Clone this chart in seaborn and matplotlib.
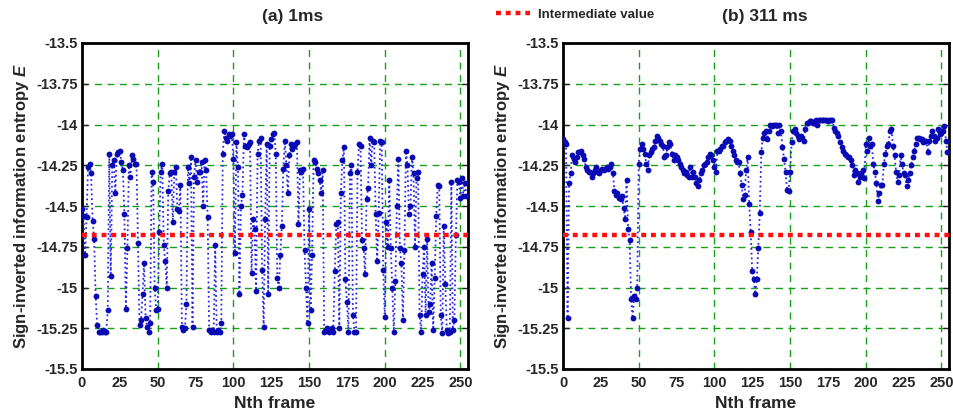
import numpy as np
import pandas as pd
import matplotlib
matplotlib.use("Agg")
import matplotlib.pyplot as plt
from matplotlib.ticker import MultipleLocator, FixedLocator, FixedFormatter, NullFormatter
import seaborn as sns

sns.set_style("white")
plt.rcParams['font.family'] = ['Liberation Sans', 'DejaVu Sans']
plt.rcParams['font.weight'] = 'bold'
plt.rcParams['mathtext.fontset'] = 'custom'
plt.rcParams['mathtext.it'] = 'Liberation Sans:bold:italic'
plt.rcParams['mathtext.rm'] = 'Liberation Sans:bold'

# ---------------- data ----------------
entropy_1ms_a = [
    -14.52, -14.56, -14.80, -14.57, -14.26, -14.24, -14.30, -14.59, -14.70, -15.05,
    -15.23, -15.27, -15.27, -15.27, -15.26, -15.27, -15.27, -15.14, -14.18, -14.93,
    -14.25, -14.22, -14.42, -14.18, -14.17, -14.16, -14.23, -14.28, -14.55, -15.13,
    -14.76, -14.25, -14.32, -14.19, -14.21, -14.24, -14.24, -14.73, -15.23, -15.20,
    -15.04, -14.85, -15.19, -15.24, -15.27, -15.22, -14.29, -14.35, -15.00, -15.14,
    -15.13, -14.66, -14.29, -14.24, -14.74, -14.84, -15.00, -14.41, -14.30, -14.29,
    -14.60, -14.29, -14.26, -14.52, -14.53, -14.37, -15.24, -15.26, -15.25, -15.10,
    -14.26, -14.36, -14.20, -15.24, -14.32, -14.22, -14.35, -14.29, -14.29, -14.23,
    -14.50, -14.22, -14.28, -14.57, -15.26,
]
entropy_1ms_b = [
    -15.27, -15.26, -15.27, -14.74, -15.27, -15.26, -15.27, -15.22, -14.18, -14.04,
    -14.08, -14.10, -14.06, -14.07, -14.06, -14.21, -14.79, -14.11, -14.26, -15.04,
    -14.50, -14.43, -14.06, -14.13, -14.14, -14.12, -14.11, -14.91, -14.58, -14.64,
    -15.02, -14.18, -14.10, -14.08, -14.89, -15.24, -14.58, -14.12, -15.04, -14.13,
    -14.09, -14.06, -14.05, -14.18, -14.94, -15.00, -14.80, -14.62, -14.27, -14.10,
    -14.25, -14.42, -14.19, -14.12, -14.15, -14.13, -14.12, -14.11, -14.61, -14.28,
    -14.29, -14.27, -14.77, -15.00, -15.22, -14.52, -15.14, -14.80, -14.22, -14.23,
    -14.27, -14.30, -14.34, -14.42, -14.28, -15.27, -15.26, -15.25, -15.27, -15.26,
    -15.25, -15.27, -14.90, -14.61,
]
entropy_1ms_c = [
    -14.60, -15.25, -14.42, -14.22, -14.14, -14.95, -15.09, -15.27, -14.30, -14.25,
    -15.17, -15.27, -15.27, -14.29, -14.12, -14.13, -14.71, -14.76, -14.92, -14.46,
    -14.39, -14.08, -14.25, -14.10, -14.11, -14.55, -14.84, -14.54, -14.10, -14.11,
    -14.89, -15.18, -14.60, -14.75, -14.34, -14.76, -15.00, -15.27, -14.96, -14.50,
    -14.21, -14.76, -14.85, -15.20, -14.77, -14.16, -14.25, -14.55, -14.50, -14.20,
    -14.30, -14.75, -14.33, -14.29, -15.17, -15.27, -14.92, -14.75, -15.17, -14.70,
    -15.15, -15.10, -14.85, -15.26, -14.94, -14.56, -14.37, -14.38, -15.17, -15.28,
    -14.62, -14.98, -15.26, -15.28, -15.27, -14.35, -15.26, -15.20, -14.68, -14.34,
    -14.35, -14.45, -14.33, -14.44, -14.36, -14.44,
]
entropy_1ms = entropy_1ms_a + entropy_1ms_b + entropy_1ms_c

entropy_311ms = [
    -14.09, -14.11, -14.12, -15.19, -14.36, -14.30, -14.19, -14.21, -14.23, -14.20,
    -14.17, -14.17, -14.16, -14.19, -14.21, -14.26, -14.28, -14.29, -14.29, -14.32,
    -14.30, -14.28, -14.26, -14.29, -14.30, -14.28, -14.27, -14.28, -14.27, -14.26,
    -14.27, -14.26, -14.24, -14.30, -14.41, -14.43, -14.42, -14.45, -14.46, -14.44,
    -14.51, -14.58, -14.34, -14.64, -14.71, -15.07, -15.19, -15.05, -15.07, -15.00,
    -14.24, -14.15, -14.12, -14.15, -14.18, -14.24, -14.28, -14.19, -14.17, -14.15,
    -14.14, -14.10, -14.07, -14.08, -14.10, -14.12, -14.13, -14.20, -14.19, -14.14,
    -14.11, -14.12, -14.18, -14.22, -14.19, -14.20, -14.22, -14.24, -14.26, -14.28,
    -14.30, -14.29, -14.31, -14.32, -14.26, -14.32, -14.29, -14.32, -14.36, -14.38,
    -14.34, -14.30, -14.28, -14.25, -14.24, -14.23, -14.20, -14.18, -14.19, -14.22,
    -14.26, -14.29, -14.16, -14.16, -14.15, -14.13, -14.13, -14.11, -14.10, -14.09,
    -14.10, -14.13, -14.16, -14.19, -14.22, -14.23, -14.23, -14.30, -14.37, -14.46,
    -14.43, -14.28, -14.20, -14.49, -14.66, -14.90, -14.95, -15.04, -14.95, -14.76,
    -14.54, -14.17, -14.08, -14.05, -14.04, -14.09, -14.04, -14.00, -14.01, -14.00,
    -14.00, -14.00, -14.05, -14.00, -14.04, -14.14, -14.21, -14.29, -14.40, -14.41,
    -14.29, -14.11, -14.04, -14.03, -14.05, -14.07, -14.09, -14.07, -14.08, -14.10,
    -14.03, -13.99, -13.99, -13.98, -13.98, -13.99, -13.99, -13.97, -14.00, -13.97,
    -13.97, -13.97, -13.97, -13.97, -13.97, -13.98, -13.97, -13.97, -13.97, -14.02,
    -14.04, -14.05, -14.07, -14.11, -14.14, -14.16, -14.18, -14.19, -14.20, -14.20,
    -14.22, -14.25, -14.31, -14.28, -14.30, -14.35, -14.32, -14.30, -14.28, -14.33,
    -14.12, -14.16, -14.08, -14.13, -14.12, -14.24, -14.29, -14.36, -14.47, -14.42,
    -14.37, -14.37, -14.24, -14.18, -14.13, -14.12, -14.04, -14.03, -14.13, -14.19,
    -14.29, -14.35, -14.31, -14.19, -14.24, -14.30, -14.31, -14.38, -14.34, -14.30,
    -14.25, -14.20, -14.16, -14.12, -14.08, -14.08, -14.09, -14.09, -14.11, -14.10,
    -14.10, -14.17, -14.10, -14.07, -14.04, -14.07, -14.10, -14.08, -14.03, -14.06,
    -14.05, -14.04, -14.01, -14.10, -14.17,
]

intermediate_value = -14.675
panel_titles = ["(a) 1ms", "(b) 311 ms"]
x_grid_ticks = [0, 50, 100, 150, 200, 250]
x_half_ticks = [25, 75, 125, 175, 225]
y_ticks = [-13.5, -13.75, -14, -14.25, -14.5, -14.75, -15, -15.25, -15.5]
y_tick_labels = ["-13.5", "-13.75", "-14", "-14.25", "-14.5", "-14.75", "-15", "-15.25", "-15.5"]
legend_label = "Intermediate value"

# ---------------- figure ----------------
W, H = 954, 413
fig = plt.figure(figsize=(W / 100, H / 100), dpi=100)

def px_axes(x0, y0, x1, y1):
    return fig.add_axes([x0 / W, 1 - y1 / H, (x1 - x0) / W, (y1 - y0) / H])

ax_left = px_axes(82, 43, 468, 369)
ax_right = px_axes(563, 43, 949, 369)

marker_col = "#0a0ab4"
line_col = "#2a2ae6"
grid_col = "#1aa01a"

series = [entropy_1ms, entropy_311ms]
hline = None
for ax, vals, title in zip([ax_left, ax_right], series, panel_titles):
    df = pd.DataFrame({"frame": np.arange(len(vals)), "E": vals})
    sns.lineplot(data=df, x="frame", y="E", ax=ax, color=line_col, linestyle=":",
                 linewidth=1.3, marker="o", markersize=4.2, markerfacecolor=marker_col,
                 markeredgecolor=marker_col, markeredgewidth=0, zorder=3)
    hline = ax.axhline(intermediate_value, color="#ff1010", linestyle=(0, (1.1, 1.1)),
                       linewidth=3.2, zorder=4, label=legend_label)
    ax.set_xlim(0, 255)
    ax.set_ylim(-15.5, -13.5)
    ax.xaxis.set_major_locator(FixedLocator(x_grid_ticks))
    ax.xaxis.set_minor_locator(FixedLocator(x_half_ticks))
    ax.xaxis.set_minor_formatter(FixedFormatter([str(v) for v in x_half_ticks]))
    ax.yaxis.set_major_locator(FixedLocator(y_ticks))
    ax.yaxis.set_major_formatter(FixedFormatter(y_tick_labels))
    ax.grid(False)
    ax.xaxis.grid(True, which="major", color=grid_col, linestyle=(0, (5, 4)), linewidth=1.0)
    ax.yaxis.grid(True, which="major", color=grid_col, linestyle=(0, (5, 4)), linewidth=1.0)
    ax.set_axisbelow(True)
    ax.tick_params(axis="both", which="both", direction="in", length=4, width=1,
                   labelsize=10.5, pad=3, right=True, left=True, bottom=False, top=False)
    ax.tick_params(axis="x", which="both", length=0, pad=5)
    for lab in (ax.get_xticklabels() + ax.get_yticklabels()
                + ax.get_xticklabels(minor=True)):
        lab.set_fontweight("bold")
    for sp in ax.spines.values():
        sp.set_visible(True)
        sp.set_color("black")
        sp.set_linewidth(2.0)
    ax.set_xlabel("Nth frame", fontsize=12.5, fontweight="bold", labelpad=4)
    ax.set_ylabel(r"Sign-inverted information entropy $E$", fontsize=12, fontweight="bold",
                  labelpad=4)

fig.text(293 / W, 1 - 17 / H, panel_titles[0], ha="center", va="center",
         fontsize=12.5, fontweight="bold")
fig.text(765 / W, 1 - 17 / H, panel_titles[1], ha="center", va="center",
         fontsize=12.5, fontweight="bold")

fig.legend(handles=[hline], labels=[legend_label], loc="center",
           bbox_to_anchor=(575 / W, 1 - 15 / H), frameon=False,
           handlelength=2.6, handletextpad=0.6, prop={"weight": "bold", "size": 9.5})

fig.savefig("out.png", dpi=100)
